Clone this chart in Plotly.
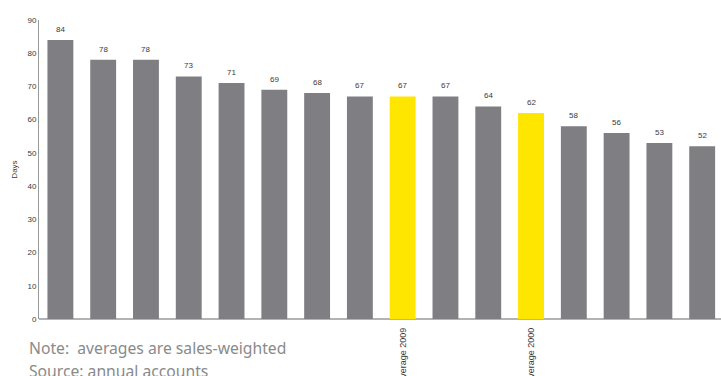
import plotly.graph_objects as go

# Days per company, sorted descending; two sales-weighted averages highlighted
categories = ["", " ", "  ", "   ", "    ", "     ", "      ", "       ",
              "Average 2009", "        ", "         ", "Average 2000",
              "          ", "           ", "            ", "             "]
days = [84, 78, 78, 73, 71, 69, 68, 67, 67, 67, 64, 62, 58, 56, 53, 52]
highlight = [False] * 8 + [True] + [False] * 2 + [True] + [False] * 4
y_ticks = [0, 10, 20, 30, 40, 50, 60, 70, 80, 90]

GREY = "#7f7e83"
YELLOW = "#ffe600"
TEXT = "#3a3a3a"
SANS = "Liberation Sans"

x = list(range(len(days)))
colors = [YELLOW if h else GREY for h in highlight]

fig = go.Figure()
fig.add_trace(go.Bar(
    x=x, y=days, marker=dict(color=colors, line=dict(width=0)),
    width=0.605, hoverinfo="skip",
))

# value labels above each bar
for xi, v in zip(x, days):
    fig.add_annotation(
        x=xi, y=v, text=str(v), showarrow=False, yanchor="bottom",
        yshift=4, font=dict(family=SANS, size=8, color=TEXT),
    )

# notes under the chart
fig.add_annotation(
    xref="paper", yref="paper", x=-0.017, y=-0.097, xanchor="left", yanchor="middle",
    text="Note:  averages are sales-weighted", showarrow=False,
    font=dict(family="Noto Sans", size=15.7, color="#8a8a8a"),
)
fig.add_annotation(
    xref="paper", yref="paper", x=-0.017, y=-0.174, xanchor="left", yanchor="middle",
    text="Source: annual accounts", showarrow=False,
    font=dict(family="Noto Sans", size=15.7, color="#8a8a8a"),
)

fig.update_layout(
    width=721, height=376,
    margin=dict(l=39, r=0, t=20, b=57, autoexpand=False),
    plot_bgcolor="white", paper_bgcolor="white",
    showlegend=False, bargap=0.39,
    xaxis=dict(
        range=[-0.5, 15.44], tickmode="array", tickvals=x, ticktext=categories,
        tickangle=-90, showgrid=False, zeroline=False, showline=False,
        ticks="", ticklen=0, automargin=False, ticklabelstandoff=6,
        tickfont=dict(family=SANS, size=9, color=TEXT),
    ),
    yaxis=dict(
        range=[0, 90], tickvals=y_ticks, showgrid=False, zeroline=True,
        zerolinecolor="#b3b3b3", zerolinewidth=2,
        showline=True, linecolor="#9a9a9a", linewidth=1, ticks="",
        automargin=False,
        tickfont=dict(family=SANS, size=8, color=TEXT),
        title=dict(text="Days", standoff=8,
                   font=dict(family=SANS, size=8, color=TEXT)),
    ),
)

fig.write_html("out.html")
